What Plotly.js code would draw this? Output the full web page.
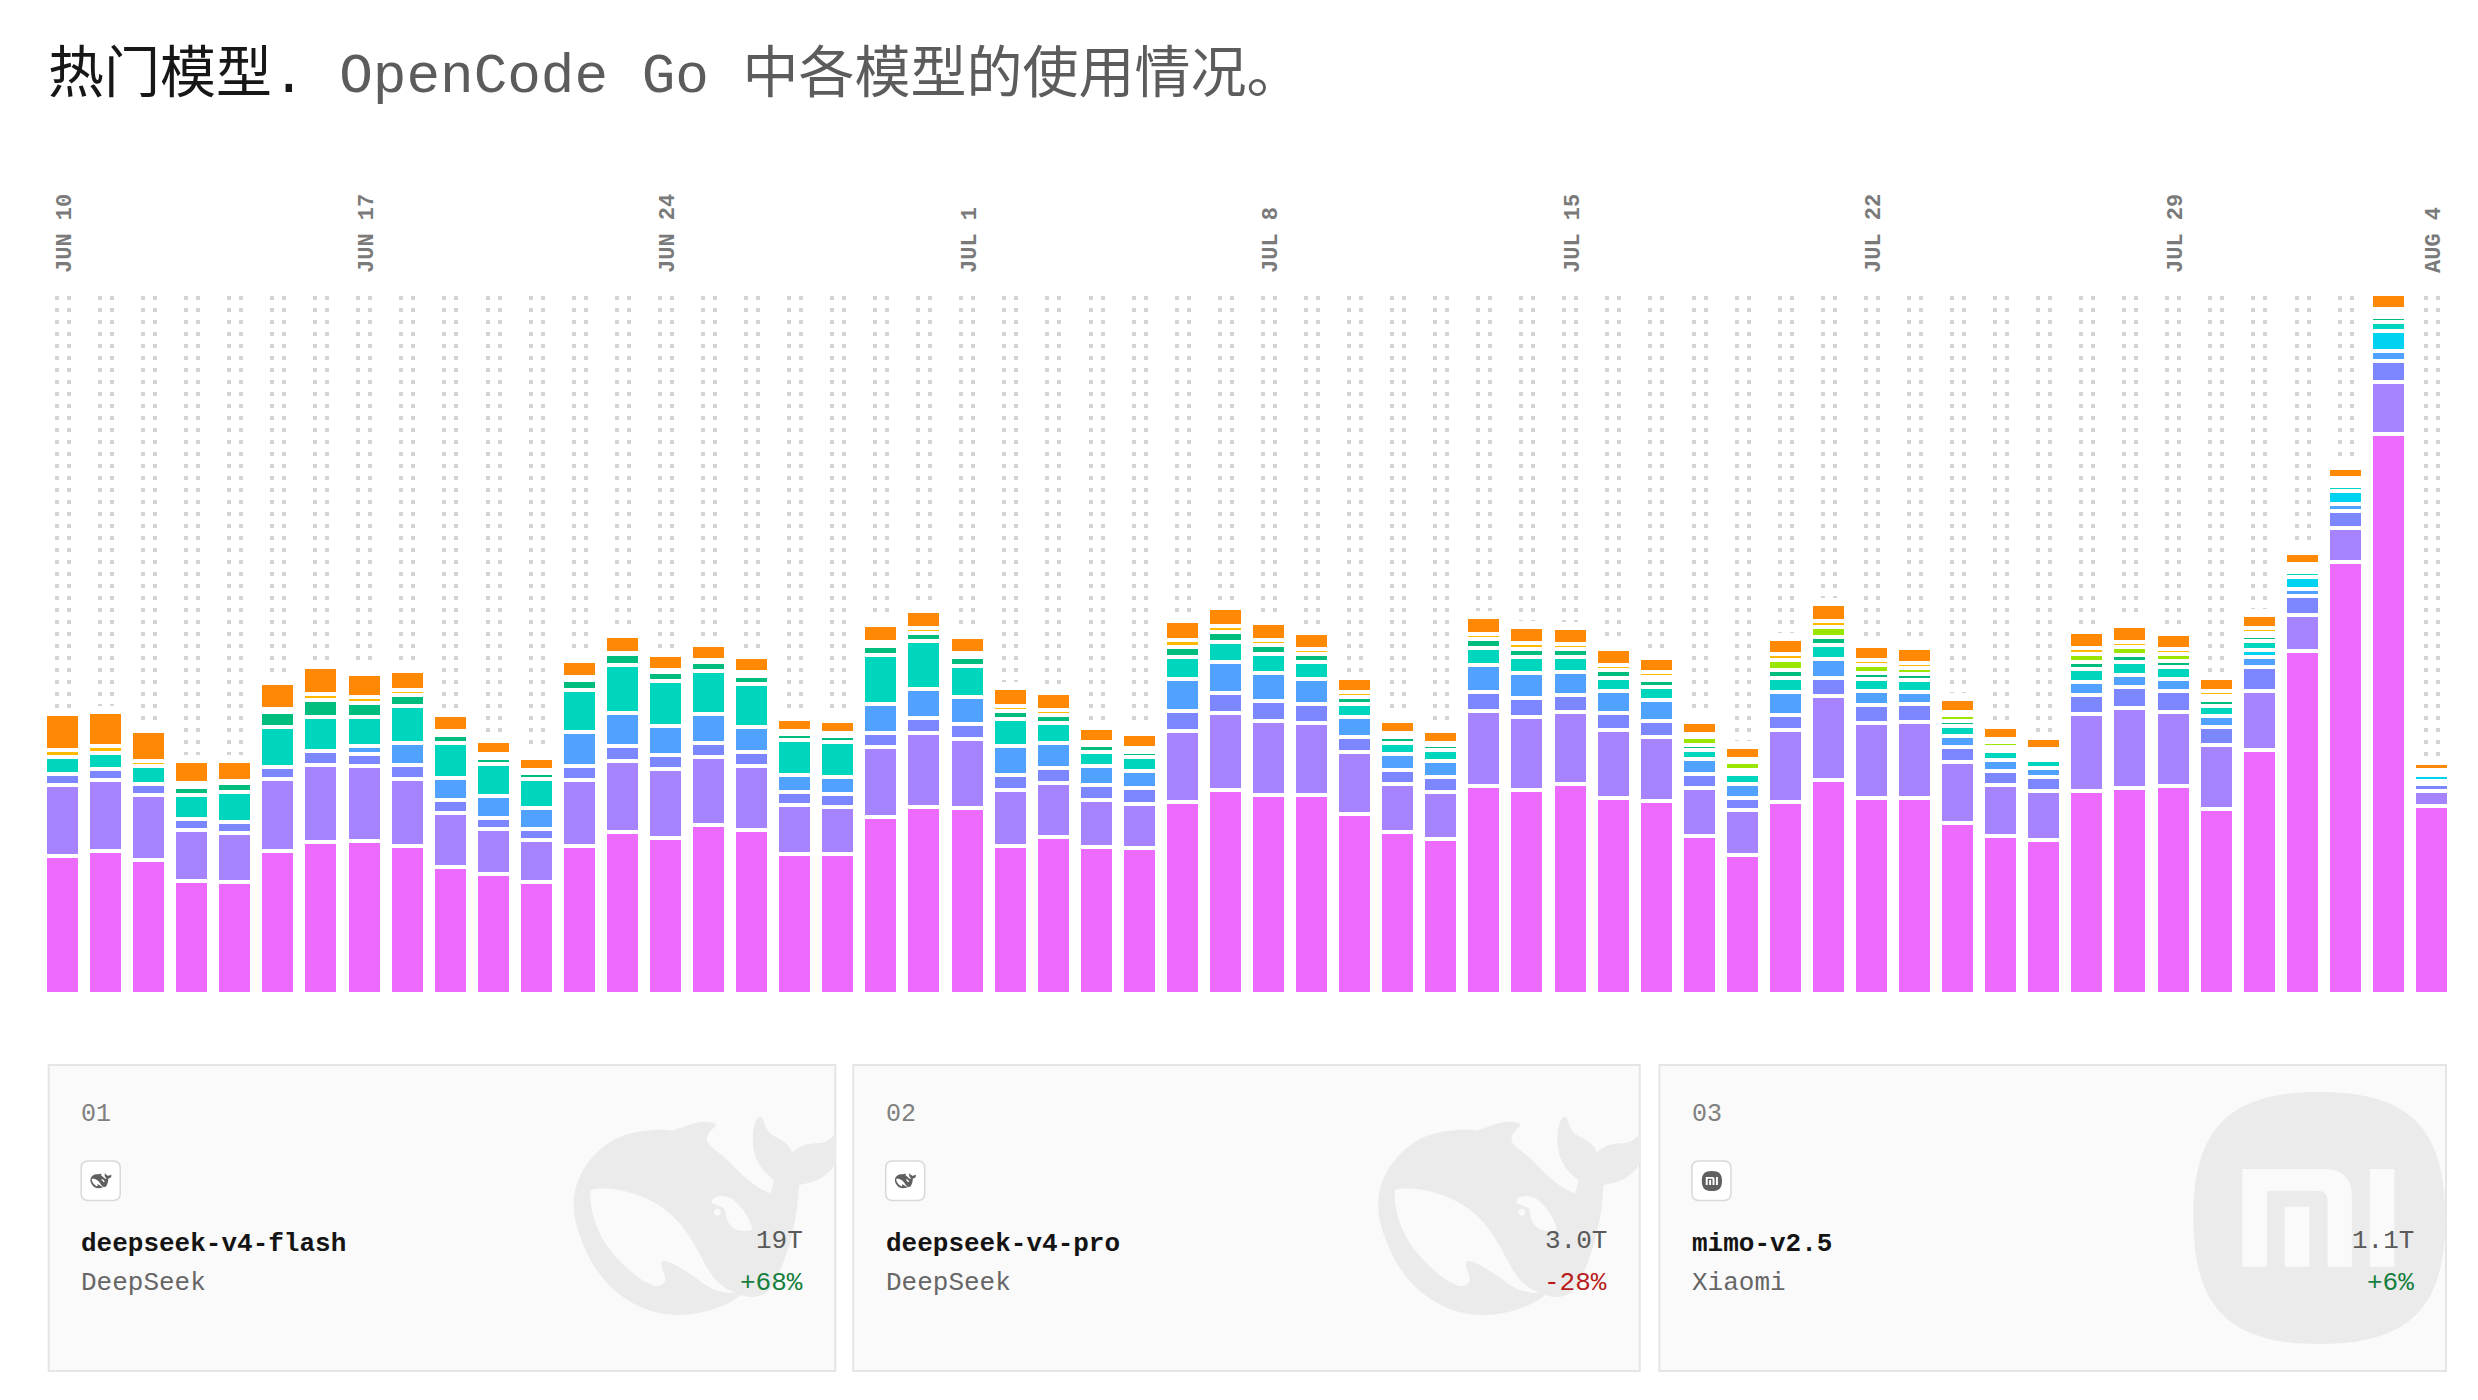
<!DOCTYPE html>
<html><head><meta charset="utf-8">
<script src="https://cdn.plot.ly/plotly-3.0.1.min.js"></script>
<style>html,body{margin:0;padding:0;background:#fff}#chart{width:2478px;height:1400px}</style>
</head><body><div id="chart"></div>
<script>
const days = ["JUN 10","JUN 11","JUN 12","JUN 13","JUN 14","JUN 15","JUN 16","JUN 17","JUN 18","JUN 19","JUN 20","JUN 21","JUN 22","JUN 23","JUN 24","JUN 25","JUN 26","JUN 27","JUN 28","JUN 29","JUN 30","JUL 1","JUL 2","JUL 3","JUL 4","JUL 5","JUL 6","JUL 7","JUL 8","JUL 9","JUL 10","JUL 11","JUL 12","JUL 13","JUL 14","JUL 15","JUL 16","JUL 17","JUL 18","JUL 19","JUL 20","JUL 21","JUL 22","JUL 23","JUL 24","JUL 25","JUL 26","JUL 27","JUL 28","JUL 29","JUL 30","JUL 31","AUG 1","AUG 2","AUG 3","AUG 4"];
const tickDays = ["JUN 10","JUN 17","JUN 24","JUL 1","JUL 8","JUL 15","JUL 22","JUL 29","AUG 4"];

const pink = [138,143,134,113,112,143,152,153,148,127,120,112,148,162,156,169,164,140,140,177,187,186,148,157,147,146,192,204,199,199,180,162,155,208,204,210,196,193,158,139,192,214,196,196,171,158,154,203,206,208,185,244,343,432,560,188];
const violet = [71,71,65,51,49,72,77,75,67,54,45,42,66,71,69,68,64,49,47,70,74,69,56,54,47,44,71,77,74,72,62,48,47,75,73,72,68,64,48,45,72,84,75,76,61,51,49,77,80,74,64,59,36,34,52,15];
const indigo = [11,11,11,11,11,12,14,12,14,13,11,11,14,15,14,14,14,13,13,14,15,15,15,15,15,16,20,20,20,19,15,14,15,19,19,17,17,16,14,12,15,18,18,18,15,14,14,19,21,21,18,24,19,17,21,7];
const blue = [0,0,0,0,0,0,0,8,22,22,22,21,34,33,29,29,25,17,17,29,29,27,29,25,19,17,32,31,28,25,20,16,16,27,25,23,22,21,15,14,23,19,14,12,11,11,9,13,12,12,11,10,7,7,10,3];
const cyan = [0,0,0,0,0,0,0,0,0,0,0,0,0,0,0,0,0,0,0,0,0,0,0,0,0,0,0,0,0,0,0,0,0,0,0,0,0,0,0,0,0,0,0,0,0,0,0,0,0,0,0,7,12,13,20,6];
const teal = [17,16,18,24,30,40,34,29,37,35,32,29,42,48,45,43,43,35,35,49,48,31,27,20,14,14,22,20,19,17,13,11,11,17,16,15,13,13,9,10,14,14,12,12,10,9,8,13,13,12,10,9,5,5,9,0];
const green = [0,0,0,8,9,15,17,14,11,8,6,6,10,11,9,9,8,6,6,9,8,9,8,8,7,5,10,10,9,8,7,6,5,9,8,8,8,7,5,4,8,8,6,6,5,4,3,7,7,6,6,5,0,0,5,0];
const lime = [0,0,0,0,0,0,0,0,0,0,0,0,0,0,0,0,0,0,0,0,0,0,0,0,0,0,0,0,0,0,0,0,0,0,0,0,0,3,8,8,10,10,8,6,6,5,4,8,8,7,4,3,4,4,4,1];
const amber = [7,7,5,4,2,3,6,6,5,4,4,3,3,1,2,2,4,3,3,4,5,4,5,5,3,4,7,6,5,5,5,4,2,5,6,5,5,5,3,3,6,6,5,5,3,3,4,6,5,5,5,5,4,4,4,4];
const orange = [36,34,30,22,20,26,27,23,19,16,13,12,16,17,15,15,15,12,12,17,17,16,18,17,14,14,19,18,17,16,14,12,12,17,16,16,16,14,12,12,15,17,14,15,13,12,11,16,16,15,13,13,11,10,15,7];
const clearance = days.map(() => 4);

const seriesNames = ["fuchsia","violet","indigo","blue","cyan","teal","emerald","lime","amber","orange"];
const seriesValues = [pink,violet,indigo,blue,cyan,teal,green,lime,amber,orange];
const seriesColors = ["#ed6aff","#a684ff","#7c86ff","#51a2ff","#00d3f2","#00d5be","#00bc7d","#9ae600","#ffb900","#ff8904"];

const cardRanks = ["01","02","03"];
const cardModels = ["deepseek-v4-flash","deepseek-v4-pro","mimo-v2.5"];
const cardVendors = ["DeepSeek","DeepSeek","Xiaomi"];
const cardTotals = ["19T","3.0T","1.1T"];
const cardChanges = ["+68%","-28%","+6%"];
const cardLogos = ["whale","whale","mi"];

const W = 2478, H = 1400, PL = 41, PR = 2453, PT = 280, PB = 994;
const MONO = '"Liberation Mono","Noto Sans CJK SC",monospace';
const px2x = p => (p - PL) / (PR - PL);
const px2y = p => (PB - p) / (PB - PT);
const pitch = (PR - PL) / days.length;

const traces = [];
const dotX = [], dotY = [];
const stackTops = days.map((d, i) => seriesValues.reduce((s, a) => s + a[i], 0));
days.forEach((d, i) => {
  const c = PL + pitch * (i + .5);
  const a = Math.round(c - 5.7);
  for (let v = 696; v > stackTops[i] - 6; v -= 12) {
    dotX.push((a - PL) / pitch - .5, (a + 12 - PL) / pitch - .5);
    dotY.push(v, v);
  }
});
traces.push({type:'scatter',mode:'markers',x:dotX,y:dotY,xaxis:'x',yaxis:'y',hoverinfo:'skip',showlegend:false,
  marker:{symbol:'square',size:4,color:'#d4d4d4',line:{width:0}}});
const idx = days.map((d, i) => i);
seriesNames.forEach((n, k) => traces.push({type:'bar',name:n,x:idx,y:seriesValues[k],xaxis:'x',yaxis:'y2',width:35/pitch,
  marker:{color:seriesColors[k],line:{color:'#ffffff',width:4}},showlegend:false}));
traces.push({type:'bar',name:'clearance',x:idx,y:clearance,xaxis:'x',yaxis:'y2',width:35/pitch,hoverinfo:'skip',
  marker:{color:'#ffffff',line:{color:'#ffffff',width:4}},showlegend:false});

function mapPath(str, fx, fy) {
  return str.replace(/(-?\d+\.?\d*) (-?\d+\.?\d*)/g, (m, a, b) => px2x(fx(+a)).toFixed(6) + ' ' + px2y(fy(+b)).toFixed(6));
}
const whalePath = "M 350 92 C 380 85 420 62 460 66 C 480 68 487 72 477 82 C 462 95 450 110 456 125 C 465 145 495 155 525 190 C 560 225 600 265 645 280 C 650 262 655 250 655 240 C 620 215 590 175 592 115 C 592 85 600 50 615 50 C 628 55 622 85 650 105 C 680 120 705 135 710 158 C 735 135 760 130 790 130 C 810 130 830 115 840 100 L 840 190 C 815 235 770 250 730 255 C 728 350 700 470 650 560 C 630 590 590 598 555 585 C 530 610 450 645 370 645 C 250 645 150 570 100 470 C 70 410 50 350 55 300 C 60 220 120 140 200 108 C 250 90 310 85 350 92 Z "
 + "M 105 270 C 150 258 250 270 330 330 C 390 375 420 440 450 495 C 475 540 500 565 540 578 C 510 580 470 575 430 540 C 395 515 350 485 325 482 C 312 485 318 500 325 520 C 335 545 325 558 300 558 C 260 550 190 490 150 430 C 120 385 100 320 105 270 Z "
 + "M 470 300 C 480 285 510 285 530 297 C 560 320 580 350 590 385 C 590 395 570 395 545 390 C 520 380 510 355 510 335 C 510 320 490 318 475 313 C 470 310 468 305 470 300 Z "
 + "M 475 337 C 475 323 496 323 496 337 C 496 351 475 351 475 337 Z";
const miPath = "M 0 -126 C 90 -126 126 -90 126 0 C 126 90 90 126 0 126 C -90 126 -126 90 -126 0 C -126 -90 -90 -126 0 -126 Z "
 + "M -77 -49 L 5 -49 C 24 -49 32.5 -38 32.5 -22 L 32.5 48.7 L 8.1 48.7 L 8.1 -18 C 8.1 -24 4 -27.3 -2 -27.3 L -52.3 -27.3 L -52.3 48.7 L -77 48.7 Z "
 + "M -34.7 -11.3 L -10 -11.3 L -10 48.7 L -34.7 48.7 Z "
 + "M 50.5 -49 L 75 -49 L 75 48.7 L 50.5 48.7 Z";

const shapes = [], annotations = [];
function label(text, x, y, size, color, anchor, bold) {
  annotations.push({text:bold?'<b>'+text+'</b>':text, xref:'paper', yref:'paper', x:px2x(x), y:px2y(y), xanchor:anchor, yanchor:'middle',
    showarrow:false, borderpad:0, font:{family:MONO,size:size,color:color}});
}
const cardW = 788.6, cardT = 1065, cardB = 1371;
const cardLefts = [47.7, 852.2, 1658.4];
cardRanks.forEach((r, i) => {
  const L = cardLefts[i], R = L + cardW;
  shapes.push({type:'rect',xref:'paper',yref:'paper',x0:px2x(L+1),x1:px2x(R-1),y0:px2y(cardB),y1:px2y(cardT),fillcolor:'#fafafa',line:{color:'#e5e5e5',width:2},layer:'below'});
  if (cardLogos[i] === 'whale') {
    shapes.push({type:'path',xref:'paper',yref:'paper',layer:'below',fillcolor:'#ebebeb',line:{width:0},
      path:mapPath(whalePath, c => L + 507.8 + c/3, c => 1100 + c/3)});
  } else {
    shapes.push({type:'path',xref:'paper',yref:'paper',layer:'below',fillcolor:'#ebebeb',line:{width:0},
      path:mapPath(miPath, c => L + 661 + c, c => 1218 + c)});
  }
  const iL = L + 33.5, iR = iL + 39, iT = 1161, iB = 1200.5, rr = 7;
  const box = `M ${iL+rr} ${iT} L ${iR-rr} ${iT} C ${iR-2} ${iT} ${iR} ${iT+2} ${iR} ${iT+rr} L ${iR} ${iB-rr} C ${iR} ${iB-2} ${iR-2} ${iB} ${iR-rr} ${iB} L ${iL+rr} ${iB} C ${iL+2} ${iB} ${iL} ${iB-2} ${iL} ${iB-rr} L ${iL} ${iT+rr} C ${iL} ${iT+2} ${iL+2} ${iT} ${iL+rr} ${iT} Z`;
  shapes.push({type:'path',xref:'paper',yref:'paper',layer:'below',fillcolor:'#ffffff',line:{color:'#d9d9d9',width:1.5},path:mapPath(box, c=>c, c=>c)});
  if (cardLogos[i] === 'whale') {
    shapes.push({type:'path',xref:'paper',yref:'paper',layer:'below',fillcolor:'#5f5f5f',line:{width:0},
      path:mapPath(whalePath, c => L + 42.7 + (c-55)*0.0266, c => 1173.3 + (c-50)*0.0253)});
  } else {
    shapes.push({type:'path',xref:'paper',yref:'paper',layer:'below',fillcolor:'#5f5f5f',line:{width:0},
      path:mapPath(miPath, c => L + 53.5 + c*0.08, c => 1181 + c*0.08)});
  }
  label(r, L+32.5, 1114, 25, '#808080', 'left');
  label(cardModels[i], L+32.5, 1243.5, 26, '#141414', 'left', true);
  label(cardVendors[i], L+32.5, 1282.5, 26, '#666666', 'left');
  label(cardTotals[i], R-32.5, 1241, 26, '#5a5a5a', 'right');
  label(cardChanges[i], R-32.5, 1282.5, 26, cardChanges[i][0]==='+' ? '#15803d' : '#b91c1c', 'right');
});

const tickShift = 1.5 / pitch;
const layout = {
  width:W, height:H, showlegend:false, barmode:'stack', bargap:0, paper_bgcolor:'#ffffff', plot_bgcolor:'#ffffff',
  margin:{l:PL,r:W-PR,t:PT,b:H-PB,pad:0},
  title:{text:'<span style="color:#171717">热门模型.</span> OpenCode Go 中各模型的使用情况。',
    font:{family:MONO,size:56,color:'#5c5c5c'},x:48/W,xanchor:'left',xref:'container',y:1-72/H,yanchor:'middle',yref:'container'},
  xaxis:{range:[-.5,days.length-.5],side:'top',tickmode:'array',tickvals:tickDays.map(t=>days.indexOf(t)+tickShift),ticktext:tickDays,tickangle:-90,
    showgrid:false,zeroline:false,showline:false,ticks:'',ticklabelstandoff:6,tickfont:{family:MONO,size:22,weight:'bold',color:'#7a7a7a'},automargin:false},
  yaxis:{range:[0,PB-PT],visible:false,fixedrange:true},
  yaxis2:{range:[0,PB-PT],visible:false,overlaying:'y',fixedrange:true},
  shapes, annotations
};
Plotly.newPlot('chart', traces, layout, {displayModeBar:false});
</script></body></html>
